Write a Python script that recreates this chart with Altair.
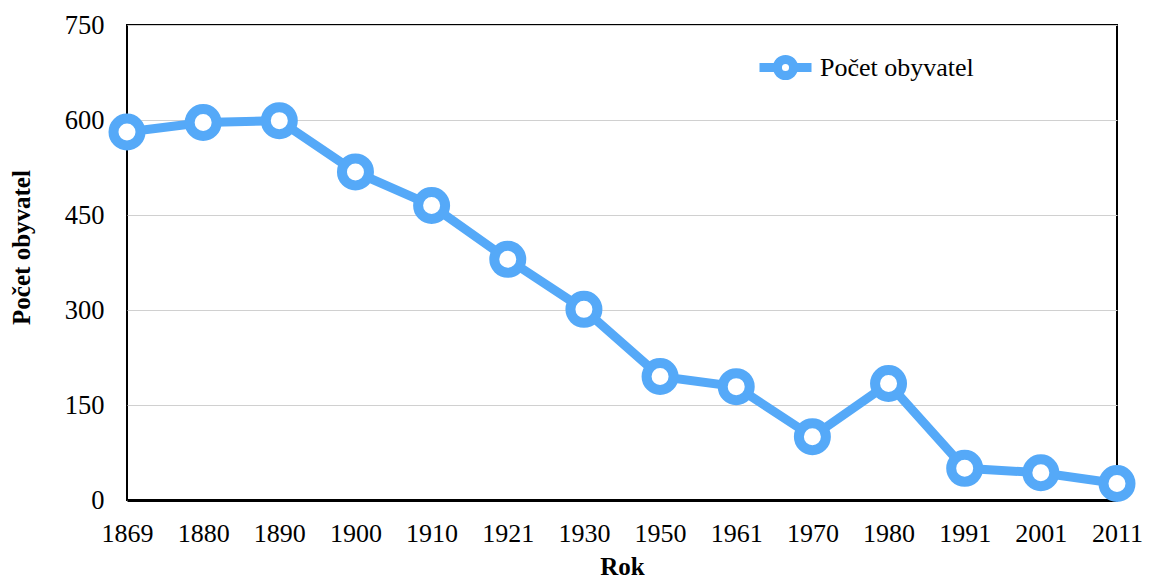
import altair as alt
import pandas as pd

years = ["1869", "1880", "1890", "1900", "1910", "1921", "1930",
         "1950", "1961", "1970", "1980", "1991", "2001", "2011"]
population = [581, 596, 599, 518, 465, 380, 301, 195, 179, 100, 184, 50, 43, 26]
series_name = "Počet obyvatel"
y_ticks = [0, 150, 300, 450, 600, 750]

BLUE = "#55A9F8"
FONT = "Liberation Serif"

df = pd.DataFrame({"Rok": years, "Pocet": population, "serie": [series_name] * len(years)})

x_enc = alt.X(
    "Rok:O", sort=None,
    scale=alt.Scale(type="point", padding=0),
    axis=alt.Axis(title="Rok", labelAngle=0, ticks=False, grid=False,
                  domain=True, domainColor="black", domainWidth=3,
                  labelFont=FONT, labelFontSize=26, labelColor="black",
                  labelPadding=20,
                  titleFont=FONT, titleFontSize=25, titleFontWeight="bold",
                  titleColor="black", titleY=66, titleBaseline="middle"),
)
y_enc = alt.Y(
    "Pocet:Q",
    scale=alt.Scale(domain=[0, 750], nice=False),
    axis=alt.Axis(title="Počet obyvatel", values=y_ticks, ticks=False, domain=False,
                  grid=True, gridColor="#d0d0d0", gridWidth=1,
                  labelFont=FONT, labelFontSize=26.5, labelColor="black",
                  labelPadding=23,
                  titleFont=FONT, titleFontSize=25, titleFontWeight="bold",
                  titleColor="black", titleX=-106, titleY=222,
                  titleAngle=-90, titleBaseline="middle", titleAlign="center"),
)

legend_path = ("M-1,0 L-0.31,0 M0.31,0 L1,0 "
               "M-0.31,0 A0.31,0.31 0 1,0 0.31,0 A0.31,0.31 0 1,0 -0.31,0 Z")

line = alt.Chart(df).mark_line(strokeWidth=9).encode(
    x=x_enc, y=y_enc,
    color=alt.Color("serie:N", scale=alt.Scale(range=[BLUE]),
                    legend=alt.Legend(title=None, orient="none",
                                      legendX=628, legendY=12,
                                      symbolType=legend_path, symbolSize=2704,
                                      symbolStrokeWidth=9, symbolFillColor="white",
                                      labelFont=FONT, labelFontSize=26,
                                      labelColor="black", labelOffset=4,
                                      padding=0)),
)
points = alt.Chart(df).mark_point(
    shape="circle", size=729, strokeWidth=10, fill="white", stroke=BLUE,
    filled=False, opacity=1, fillOpacity=1,
).encode(x=x_enc, y=y_enc)

chart = (line + points).properties(
    width=990, height=475,
    autosize=alt.AutoSizeParams(type="none"),
    padding={"left": 119, "top": 17, "right": 29, "bottom": 80},
).configure(background="white").configure_view(stroke="black", strokeWidth=2)

chart.save("out.html", embed_options={"renderer": "svg", "actions": False})
